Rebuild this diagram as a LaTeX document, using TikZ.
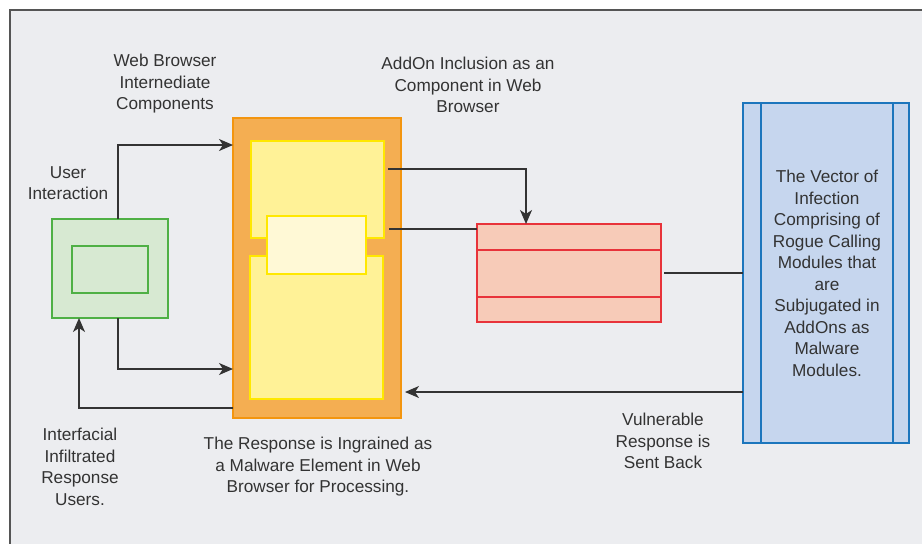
\documentclass[tikz,border=0pt]{standalone}
\usepackage{fontspec}
\setmainfont{Liberation Sans}
\usetikzlibrary{arrows.meta,calc}
\definecolor{bgc}{HTML}{ECEDF0}
\definecolor{framec}{HTML}{555555}
\definecolor{greenf}{HTML}{D7E9D2}
\definecolor{greens}{HTML}{4FB045}
\definecolor{orangef}{HTML}{F4AE52}
\definecolor{oranges}{HTML}{F3950F}
\definecolor{yellowf}{HTML}{FFF297}
\definecolor{yellows}{HTML}{FFE800}
\definecolor{creamf}{HTML}{FFF9D6}
\definecolor{redf}{HTML}{F7CBB8}
\definecolor{reds}{HTML}{E8333A}
\definecolor{bluef}{HTML}{C6D6EE}
\definecolor{blues}{HTML}{1C76BD}
\definecolor{linec}{HTML}{333333}
\definecolor{textc}{HTML}{333333}
\tikzset{
  box/.style={rectangle, inner sep=0pt, outer sep=0pt, line width=1.4pt},
  greenbox/.style={box, draw=greens, fill=greenf},
  orangebox/.style={box, draw=oranges, fill=orangef},
  yellowbox/.style={box, draw=yellows, fill=yellowf},
  creambox/.style={box, draw=yellows, fill=creamf},
  redbox/.style={box, draw=reds, fill=redf},
  bluebox/.style={box, draw=blues, fill=bluef},
  conn/.style={draw=linec, line width=1.5pt},
  arr/.style={conn, -{Stealth[length=14pt,width=12pt,inset=4pt]}},
  lbl/.style={align=center, text=textc, inner sep=0pt, font=\fontsize{17.2}{21.5}\selectfont},
}
\begin{document}
\begin{tikzpicture}[x=1pt,y=-1pt]
\useasboundingbox (0,0) rectangle (922,544);
\fill[white] (0,0) rectangle (922,544);
\fill[bgc] (10,10) rectangle (922,544);
\draw[framec, line width=1.3pt] (10,544) -- (10,10) -- (922,10);

% boxes
\node[greenbox, minimum width=116pt, minimum height=99pt] (green) at (110,268.5) {};
\node[greenbox, minimum width=76pt, minimum height=47pt] (greenin) at (110,269.5) {};
\node[orangebox, minimum width=168pt, minimum height=300pt] (orange) at (317,268) {};
\node[yellowbox, minimum width=133pt, minimum height=97pt] (ytop) at (317.5,189.5) {};
\node[yellowbox, minimum width=133pt, minimum height=143pt] (ybot) at (316.5,327.5) {};
\node[creambox, minimum width=99pt, minimum height=58pt] (cream) at (316.5,245) {};
\node[redbox, minimum width=184pt, minimum height=98pt] (red) at (569,273) {};
\draw[reds, line width=1.4pt] (red.west |- 0,250) -- (red.east |- 0,250);
\draw[reds, line width=1.4pt] (red.west |- 0,297) -- (red.east |- 0,297);
\node[bluebox, minimum width=166pt, minimum height=340pt] (blue) at (826,273) {};
\draw[blues, line width=1.4pt] (blue.north -| 761,0) -- (blue.south -| 761,0);
\draw[blues, line width=1.4pt] (blue.north -| 893,0) -- (blue.south -| 893,0);

% connectors
\draw[arr] ([xshift=8pt]green.north) |- ([yshift=-27pt]orange.north west);
\draw[arr] ([xshift=8pt]green.south) |- ([yshift=49pt]orange.south west);
\draw[arr] ([yshift=10pt]orange.south west) -| ([xshift=-31pt]green.south);
\coordinate (s1) at ([xshift=4pt,yshift=20.5pt]ytop.east);
\draw[arr] (s1) -| ([xshift=-43pt]red.north);
\coordinate (r2) at ([yshift=-5pt]red.north west);
\draw[conn] ($(r2 -| ytop.east)+(5,0)$) -- (r2);
\draw[conn, shorten <=3pt] (red.east) -- (blue.west);
\coordinate (b2) at ([yshift=51pt]blue.south west);
\draw[arr, shorten >=4pt] (b2) -- (b2 -| orange.east);

% labels
\node[lbl] (lweb) at (165,84) {Web Browser\\Internediate\\Components};
\node[lbl] (luser) at (68,183) {User\\Interaction};
\node[lbl] (laddon) at (468,85) {AddOn Inclusion as an\\Component in Web\\Browser};
\node[lbl] (linter) at (80,467) {Interfacial\\Infiltrated\\Response\\Users.};
\node[lbl] (lresp) at (318,467) {The Response is Ingrained as\\a Malware Element in Web\\Browser for Processing.};
\node[lbl] (lvul) at (663,441) {Vulnerable\\Response is\\Sent Back};
\node[lbl] (lvec) at (827,273.5) {The Vector of\\Infection\\Comprising of\\Rogue Calling\\Modules that\\are\\Subjugated in\\AddOns as\\Malware\\Modules.};
\end{tikzpicture}
\end{document}
